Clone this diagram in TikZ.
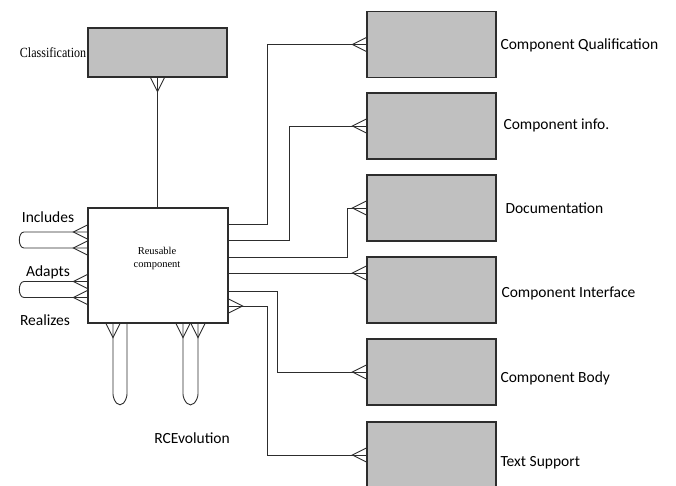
\documentclass[tikz,border=0pt]{standalone}
\usepackage{fontspec}
\setmainfont{Carlito}
\newfontfamily\serfont{Liberation Serif}
\definecolor{boxgray}{RGB}{192,192,192}
\definecolor{linegray}{RGB}{45,45,45}
\tikzset{
  entity/.style={draw=linegray, line width=1.3pt, fill=boxgray, inner sep=0pt,
    minimum width=129pt, minimum height=66pt},
  rel/.style={draw=linegray, line width=0.9pt},
  crow/.pic={\draw[rel] (0,-7) -- (-14,0) -- (0,7);},
}
\begin{document}
\begin{tikzpicture}[x=1pt, y=-1pt, every node/.style={font=\fontsize{15.5}{18}\selectfont}]
  \useasboundingbox (0,0) rectangle (676,485);
  % entities
  \node[entity, minimum width=139pt, minimum height=49pt] (cls) at (157.5,52.5) {};
  \node[entity, fill=white, minimum width=140pt, minimum height=115pt] (rc) at (158,265.5) {};
  \node[entity] (qual) at (431.5,44.5) {};
  \node[entity] (info) at (431.5,126) {};
  \node[entity] (doc) at (431.5,208) {};
  \node[entity] (iface) at (431.5,290) {};
  \node[entity] (body) at (431.5,372) {};
  \node[entity] (text) at (431.5,455) {};
  % texts
  \node[anchor=east, font=\serfont\fontsize{14}{16}\selectfont, inner sep=1pt] (clslbl) at (cls.west) {\scalebox{0.86}[1]{Classification}};
  \node[align=center, font=\serfont\fontsize{10.5}{13}\selectfont] (rclbl) at (157,258) {Reusable\\component};
  \node[anchor=west] (quallbl) at (497,45) {Component Qualification};
  \node[anchor=west] (infolbl) at (500,125) {Component info.};
  \node[anchor=west] (doclbl) at (502,208) {Documentation};
  \node[anchor=west] (ifacelbl) at (498,293) {Component Interface};
  \node[anchor=west] (bodylbl) at (497,378) {Component Body};
  \node[anchor=west] (textlbl) at (497,463) {Text Support};
  \node (inclbl) at (48,217) {Includes};
  \node (adlbl) at (48,272) {Adapts};
  \node (reallbl) at (45,320) {Realizes};
  \node (evolbl) at (192,438) {RCEvolution};
  % classification
  \draw[rel] (cls.south) -- (cls.south |- rc.north);
  \pic[rotate=90] at (cls.south) {crow};
  % right side
  \draw[rel] (rc.east |- 0,224) -- (267,224) |- (qual.west);
  \draw[rel] (rc.east |- 0,240) -- (289,240) |- (info.west);
  \draw[rel] (rc.east |- 0,257) -- (347,257) |- (doc.west);
  \draw[rel] (rc.east |- 0,273) -- (iface.west |- 0,273);
  \draw[rel] (rc.east |- 0,291) -- (277,291) |- (body.west);
  \draw[rel] (rc.east |- 0,306) -- (267,306) |- (text.west);
  \foreach \b in {qual,info,doc,body,text}
    \pic at (\b.west) {crow};
  \pic at (iface.west |- 0,273) {crow};
  \pic[rotate=180] at (rc.east |- 0,306) {crow};
  % loops on the left
  \foreach \ya/\yb in {232/248, 281.5/297.5}{
    \draw[rel] (rc.west |- 0,\ya) -- (24,\ya) to[out=180, in=180] (24,\yb) -- (rc.west |- 0,\yb);
    \pic at (rc.west |- 0,\ya) {crow};
    \pic at (rc.west |- 0,\yb) {crow};
  }
  % loops at the bottom
  \foreach \xa/\xb in {113/127, 183/198}
    \draw[rel, rounded corners=5pt] (rc.south -| \xa,0) -- (\xa,399) -- ({(\xa+\xb)/2},407) -- (\xb,399) -- (rc.south -| \xb,0);
  \pic[rotate=90] at (rc.south -| 113,0) {crow};
  \pic[rotate=90] at (rc.south -| 183,0) {crow};
  \pic[rotate=90] at (rc.south -| 198,0) {crow};
\end{tikzpicture}
\end{document}
